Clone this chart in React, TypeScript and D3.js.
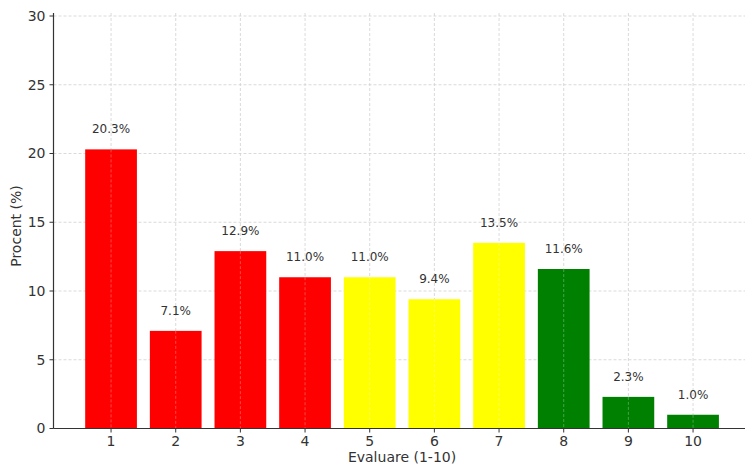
import React from "react";
import * as d3 from "d3";

const categories = ["1", "2", "3", "4", "5", "6", "7", "8", "9", "10"];
const values = [20.3, 7.1, 12.9, 11.0, 11.0, 9.4, 13.5, 11.6, 2.3, 1.0];
const colors = ["#ff0000", "#ff0000", "#ff0000", "#ff0000", "#ffff00", "#ffff00", "#ffff00", "#008000", "#008000", "#008000"];
const yTicks = [0, 5, 10, 15, 20, 25, 30];
const xLabel = "Evaluare (1-10)";
const yLabel = "Procent (%)";

export default function App() {
  const W = 745, H = 466;
  const x = d3.scaleLinear().domain([0.11, 10.89]).range([53.5, 750.6]);
  const y = d3.scaleLinear().domain([0, 30]).range([428.5, 16]);
  const step = x(2) - x(1);
  const bw = step * 0.8;
  const font = "DejaVu Sans, sans-serif";
  return (
    <svg width={W} height={H} style={{ position: "absolute", left: 0, top: 0, background: "#fff" }}>
      {yTicks.map((t) => (
        <line key={"gy" + t} x1={x.range()[0]} x2={W} y1={y(t)} y2={y(t)} stroke="#d0d0d0" strokeWidth={0.8} strokeDasharray="3,2" />
      ))}
      {categories.map((c, i) => (
        <line key={"gx" + c} x1={x(i + 1)} x2={x(i + 1)} y1={13} y2={y(0)} stroke="#d0d0d0" strokeWidth={0.8} strokeDasharray="3,2" />
      ))}
      {values.map((v, i) => (
        <rect key={"b" + i} x={x(i + 1) - bw / 2} y={y(v)} width={bw} height={y(0) - y(v)} fill={colors[i]} />
      ))}
      {values.map((v, i) => (
        <line key={"gx2" + i} x1={x(i + 1)} x2={x(i + 1)} y1={y(v)} y2={y(0)} stroke="#ffffff" strokeOpacity={0.35} strokeWidth={0.8} strokeDasharray="3,2" />
      ))}
      {values.map((v, i) => (
        <text key={"l" + i} x={x(i + 1)} y={y(v) - 16} textAnchor="middle" fontFamily={font} fontSize={12} fill="#333">
          {v.toFixed(1) + "%"}
        </text>
      ))}
      <line x1={x.range()[0]} x2={x.range()[0]} y1={13} y2={y(0)} stroke="#333" strokeWidth={1.2} />
      <line x1={x.range()[0]} x2={W} y1={y(0)} y2={y(0)} stroke="#333" strokeWidth={1.2} />
      {yTicks.map((t) => (
        <g key={"yt" + t}>
          <line x1={x.range()[0] - 4} x2={x.range()[0]} y1={y(t)} y2={y(t)} stroke="#333" strokeWidth={1} />
          <text x={x.range()[0] - 8} y={y(t)} dy="0.35em" textAnchor="end" fontFamily={font} fontSize={14} fill="#333">{t}</text>
        </g>
      ))}
      {categories.map((c, i) => (
        <g key={"xt" + c}>
          <line x1={x(i + 1)} x2={x(i + 1)} y1={y(0)} y2={y(0) + 4} stroke="#333" strokeWidth={1} />
          <text x={x(i + 1)} y={y(0) + 17} textAnchor="middle" fontFamily={font} fontSize={14} fill="#333">{c}</text>
        </g>
      ))}
      <text x={(x.range()[0] + x.range()[1]) / 2} y={462} textAnchor="middle" fontFamily={font} fontSize={14} fill="#333">{xLabel}</text>
      <text transform={`translate(21, 226) rotate(-90)`} textAnchor="middle" fontFamily={font} fontSize={14} fill="#333">{yLabel}</text>
    </svg>
  );
}
